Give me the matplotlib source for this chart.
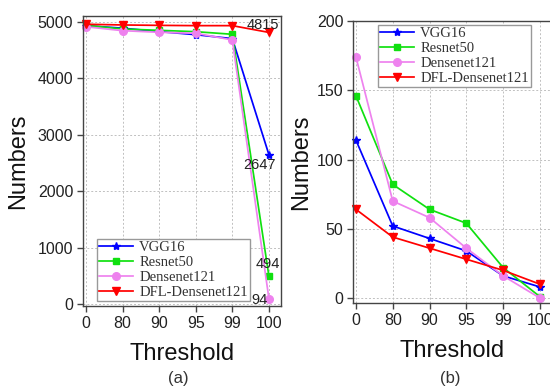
import matplotlib
matplotlib.use("Agg")
import matplotlib.pyplot as plt

thresholds = ["0", "80", "90", "95", "99", "100"]
series_names = ["VGG16", "Resnet50", "Densenet121", "DFL-Densenet121"]

# panel (a)
vgg16_a = [4935, 4890, 4830, 4775, 4705, 2647]
resnet50_a = [4940, 4876, 4852, 4828, 4782, 494]
densenet121_a = [4915, 4846, 4817, 4800, 4681, 94]
dfl_a = [4960, 4947, 4940, 4935, 4935, 4815]

# panel (b)
vgg16_b = [114, 52, 43, 34, 16, 8]
resnet50_b = [146, 82, 64, 54, 22, 1]
densenet121_b = [174, 70, 58, 36, 16, 0]
dfl_b = [64, 44, 36, 28, 20, 10]

colors = ["#0000ff", "#10e010", "#ee82ee", "#ff0000"]
markers = ["*", "s", "o", "v"]
msizes = [6, 4.5, 5.5, 5.5]

plt.rcParams["font.family"] = ["Liberation Sans", "DejaVu Sans"]

fig = plt.figure(figsize=(5.5, 3.88), dpi=100)
ax1 = fig.add_axes([83/550, (388-306)/388, 198/550, 290/388])
ax2 = fig.add_axes([353/550, (388-303)/388, 199/550, 282/388])

x = list(range(len(thresholds)))

def style(ax):
    ax.set_xlim(-0.08, 5.33)
    ax.set_xticks(x)
    ax.set_xticklabels(thresholds)
    ax.grid(True, linestyle=(0, (2, 2)), color="#c0c0c0", linewidth=0.7)
    ax.set_axisbelow(True)
    for s in ax.spines.values():
        s.set_color("#444444")
        s.set_linewidth(1.0)
    ax.tick_params(direction="out", length=4, width=1, color="#444444",
                   labelsize=11.5, labelcolor="#222222", pad=3)
    ax.set_xlabel("Threshold", fontsize=17, labelpad=9, color="#111111")

for ax, data in [(ax1, [vgg16_a, resnet50_a, densenet121_a, dfl_a]),
                 (ax2, [vgg16_b, resnet50_b, densenet121_b, dfl_b])]:
    for name, vals, c, m, ms in zip(series_names, data, colors, markers, msizes):
        ax.plot(x, vals, color=c, marker=m, markersize=ms, linewidth=1.25,
                label=name, clip_on=False)
    style(ax)

ax1.set_ylim(-35, 5106)
ax1.set_yticks([0, 1000, 2000, 3000, 4000, 5000])
ax1.set_ylabel("Numbers", fontsize=17, labelpad=6, color="#111111")
ax2.set_ylim(-3.6, 200)
ax2.set_yticks([0, 50, 100, 150, 200])
ax2.set_ylabel("Numbers", fontsize=17, labelpad=3, color="#111111")

ann = [(dfl_a[5], (-4, 5)), (vgg16_a[5], (-7, -7.5)),
       (resnet50_a[5], (-1, 8.5)), (densenet121_a[5], (-6.5, -1))]
for v, off in ann:
    ax1.annotate(str(v), xy=(5, v), xytext=off, textcoords="offset points",
                 ha="center", va="center", fontsize=10.5, color="#222222",
                 annotation_clip=False, clip_on=True)

legfont = {"family": "Liberation Serif", "size": 10.5}
leg_kw = dict(prop=legfont, frameon=True, fancybox=False, edgecolor="#999999",
              framealpha=1, borderpad=0.15, labelspacing=0.12,
              handlelength=2.3, handletextpad=0.45, borderaxespad=0)
l1 = ax1.legend(loc="lower left", bbox_to_anchor=(0.0707, 0.0172), **leg_kw)
l2 = ax2.legend(loc="upper left", bbox_to_anchor=(0.1256, 0.9858), **leg_kw)
for l in (l1, l2):
    for t in l.get_texts():
        t.set_color("#333333")

fig.text(178/550, 1 - 379/388, "(a)", ha="center", va="center", fontsize=12, color="#333333")
fig.text(450/550, 1 - 379/388, "(b)", ha="center", va="center", fontsize=12, color="#333333")

fig.savefig("out.png", dpi=100)
